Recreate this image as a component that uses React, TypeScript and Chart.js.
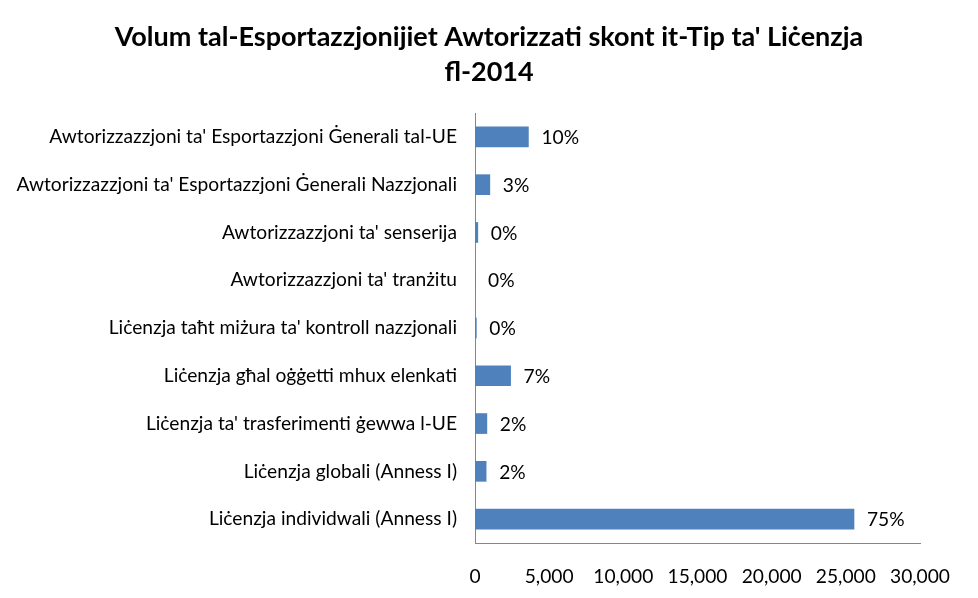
import Chart from "chart.js/auto";
import React, { useEffect, useRef } from "react";

const categories = [
  "Awtorizzazzjoni ta' Esportazzjoni Ġenerali tal-UE",
  "Awtorizzazzjoni ta' Esportazzjoni Ġenerali Nazzjonali",
  "Awtorizzazzjoni ta' senserija",
  "Awtorizzazzjoni ta' tranżitu",
  "Liċenzja taħt miżura ta' kontroll nazzjonali",
  "Liċenzja għal oġġetti mhux elenkati",
  "Liċenzja ta' trasferimenti ġewwa l-UE",
  "Liċenzja globali (Anness I)",
  "Liċenzja individwali (Anness I)",
];

const volumes = [3600, 1000, 190, 0, 90, 2400, 800, 750, 25550];

const shares = ["10%", "3%", "0%", "0%", "0%", "7%", "2%", "2%", "75%"];

const xTicks = [0, 5000, 10000, 15000, 20000, 25000, 30000];

const titleLines = [
  "Volum tal-Esportazzjonijiet Awtorizzati skont it-Tip ta' Liċenzja",
  "fl-2014",
];

const FONT = "Lato";
const SIZE = 19.2;

// data labels at the end of each bar
const barLabels = {
  id: "barLabels",
  afterDatasetsDraw(chart: Chart) {
    const ctx = chart.ctx;
    const meta = chart.getDatasetMeta(0);
    ctx.save();
    ctx.font = `${SIZE}px ${FONT}`;
    ctx.fillStyle = "#000";
    ctx.textAlign = "left";
    ctx.textBaseline = "middle";
    meta.data.forEach((bar: any, i: number) => {
      ctx.fillText(shares[i], bar.x + 13, bar.y + 1);
    });
    ctx.restore();
  },
};

// title centred on the whole canvas
const pageTitle = {
  id: "pageTitle",
  afterDraw(chart: Chart) {
    const ctx = chart.ctx;
    ctx.save();
    ctx.font = `bold 27px ${FONT}`;
    ctx.fillStyle = "#000";
    ctx.textAlign = "center";
    ctx.textBaseline = "middle";
    titleLines.forEach((line, i) => {
      ctx.fillText(line, chart.width / 2, 37 + i * 35);
    });
    ctx.restore();
  },
};

const App: React.FC = () => {
  const chartRef = useRef<Chart>();
  const canvasRef = useRef<HTMLCanvasElement>(null);

  useEffect(() => {
    document.body.style.margin = "0";
    const canvas = canvasRef.current;
    if (!canvas) {
      return;
    }
    const ctx = canvas.getContext("2d");
    if (!ctx) {
      return;
    }

    chartRef.current = new Chart(ctx, {
      type: "bar",
      data: {
        labels: categories,
        datasets: [
          {
            data: volumes,
            backgroundColor: "#4F81BD",
            barThickness: 20,
          },
        ],
      },
      options: {
        indexAxis: "y",
        responsive: false,
        animation: false,
        layout: {
          padding: { top: 113, right: 58, bottom: 0, left: 0 },
        },
        scales: {
          x: {
            min: 0,
            max: 30000,
            afterBuildTicks: (scale: any) => {
              scale.ticks = xTicks.map((v) => ({ value: v }));
            },
            afterFit: (scale: any) => {
              scale.height = 55;
            },
            grid: { display: false, drawTicks: false },
            border: { display: true, color: "#868686", width: 1 },
            ticks: {
              padding: 22,
              color: "#000",
              font: { size: SIZE, family: FONT },
              maxRotation: 0,
              callback: (v: any) => Number(v).toLocaleString("en-US"),
            },
          },
          y: {
            afterFit: (scale: any) => {
              scale.width = 475;
            },
            grid: { display: false, drawTicks: false },
            border: { display: true, color: "#868686", width: 1 },
            ticks: {
              padding: 18,
              color: "#000",
              font: { size: SIZE, family: FONT },
              autoSkip: false,
            },
          },
        },
        plugins: {
          legend: { display: false },
          tooltip: { enabled: false },
          title: { display: false },
        },
      },
      plugins: [barLabels, pageTitle],
    });

    return () => {
      if (chartRef.current) {
        chartRef.current.destroy();
      }
    };
  }, []);

  return <canvas ref={canvasRef} width={978} height={598} />;
};

export default App;
